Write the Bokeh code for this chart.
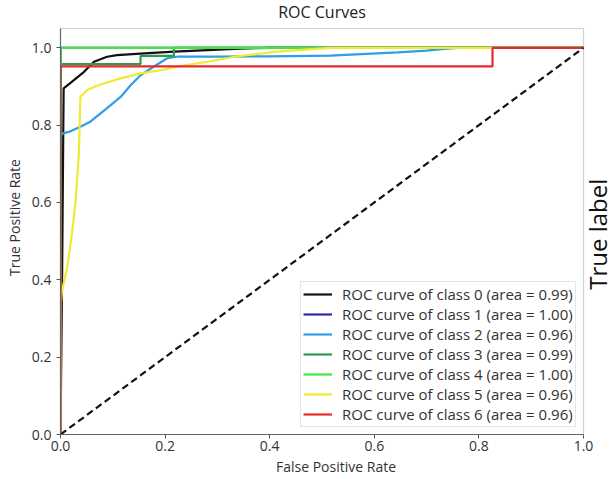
import math
from bokeh.plotting import figure
from bokeh.models import Range1d, Legend, LegendItem, FixedTicker, BoxAnnotation
from bokeh.core.properties import value
from bokeh.embed import file_html
from bokeh.resources import INLINE

# ---- data ----
fpr0 = [0, 0.003, 0.005, 0.006, 0.015, 0.025, 0.045, 0.064, 0.089, 0.108, 0.153, 0.217, 0.281, 0.344, 0.40, 1.0]
tpr0 = [0, 0.40, 0.735, 0.895, 0.905, 0.916, 0.938, 0.964, 0.977, 0.981, 0.985, 0.990, 0.994, 0.998, 1.0, 1.0]

fpr1 = [0, 0, 1.0]
tpr1 = [0, 1.0, 1.0]

fpr2 = [0, 0, 0.003, 0.019, 0.038, 0.057, 0.076, 0.096, 0.115, 0.134, 0.153, 0.178, 0.204, 0.223,
        0.30, 0.40, 0.516, 0.644, 0.70, 0.739, 0.76, 1.0]
tpr2 = [0, 0.770, 0.778, 0.784, 0.796, 0.809, 0.830, 0.852, 0.873, 0.903, 0.929, 0.951, 0.973, 0.977,
        0.977, 0.978, 0.980, 0.988, 0.993, 0.998, 1.0, 1.0]

fpr3 = [0, 0, 0.153, 0.153, 0.217, 0.217, 1.0]
tpr3 = [0, 0.958, 0.958, 0.979, 0.979, 1.0, 1.0]

fpr4 = [0, 0, 1.0]
tpr4 = [0, 1.0, 1.0]

fpr5 = [0, 0, 0.003, 0.013, 0.022, 0.029, 0.033, 0.035, 0.038, 0.051, 0.076, 0.115, 0.153, 0.191,
        0.229, 0.281, 0.325, 0.344, 0.40, 0.453, 0.516, 1.0]
tpr5 = [0, 0.33, 0.373, 0.433, 0.520, 0.606, 0.684, 0.722, 0.873, 0.891, 0.905, 0.921, 0.934, 0.942,
        0.953, 0.964, 0.975, 0.979, 0.988, 0.994, 1.0, 1.0]

fpr6 = [0, 0, 0.826, 0.826, 1.0]
tpr6 = [0, 0.952, 0.952, 1.0, 1.0]

classes = [0, 1, 2, 3, 4, 5, 6]
areas = [0.99, 1.00, 0.96, 0.99, 1.00, 0.96, 0.96]
colors = ["#111111", "#2a2aa8", "#2e9ee6", "#2e9a4f", "#3ee63e", "#f0ea30", "#e52b2b"]

chance_x = [0, 1]
chance_y = [0, 1]

tick_values = [0.0, 0.2, 0.4, 0.6, 0.8, 1.0]
tick_labels = ["0.0", "0.2", "0.4", "0.6", "0.8", "1.0"]

title_text = "ROC Curves"
side_label = "True label"

FONT = "Open Sans"
X_MAX = 1.0535    # room right of the axes box for the side label
Y_BOX = 1.05      # top of the axes box (matplotlib ylim)
Y_MAX = 1.1224    # room above the axes box for the title

p = figure(width=611, height=479, x_range=Range1d(0, X_MAX), y_range=Range1d(0, Y_MAX),
           output_backend="svg", toolbar_location=None,
           min_border_left=60, min_border_right=0, min_border_top=0, min_border_bottom=45)

p.xgrid.visible = False
p.ygrid.visible = False
p.outline_line_color = None

for ax in (p.xaxis, p.yaxis):
    ax.ticker = FixedTicker(ticks=tick_values)
    ax.major_label_overrides = {v: s for v, s in zip(tick_values, tick_labels)}
    ax.minor_tick_line_color = None
    ax.major_tick_in = 0
    ax.major_tick_out = 4
    ax.major_tick_line_color = "#555555"
    ax.axis_line_color = "#666666"
    ax.axis_line_width = 1.2
    ax.major_label_text_font = FONT
    ax.major_label_text_font_size = "14px"
    ax.major_label_text_color = "#333333"
    ax.axis_label_text_font = FONT
    ax.axis_label_text_font_size = "14px"
    ax.axis_label_text_font_style = "normal"
    ax.axis_label_text_color = "#333333"

p.xaxis.bounds = (0, 1)
p.yaxis.bounds = (0, Y_BOX)
p.xaxis.axis_label = "False Positive Rate"
p.yaxis.axis_label = "True Positive Rate"
p.xaxis.major_label_standoff = 2
p.xaxis.axis_label_standoff = 3
p.yaxis.major_label_standoff = 5
p.yaxis.axis_label_standoff = 5

# axes box (matplotlib spines)
p.add_layout(BoxAnnotation(left=0, right=1, bottom=0, top=Y_BOX, fill_alpha=0,
                           line_color="#666666", line_width=1.2))

fprs = [fpr0, fpr1, fpr2, fpr3, fpr4, fpr5, fpr6]
tprs = [tpr0, tpr1, tpr2, tpr3, tpr4, tpr5, tpr6]

items = []
for c, f, t, a, col in zip(classes, fprs, tprs, areas, colors):
    r = p.line(f, t, line_color=col, line_width=2.2)
    items.append(LegendItem(label=f"ROC curve of class {c} (area = {a:.2f})", renderers=[r]))

p.line(chance_x, chance_y, line_color="#111111", line_width=2.2, line_dash="7 4")

legend = Legend(items=items, location=(240, 7))
legend.label_text_font = FONT
legend.label_text_font_size = "15px"
legend.label_text_color = "#333333"
legend.glyph_width = 29
legend.glyph_height = 20
legend.label_height = 20
legend.spacing = 0
legend.padding = 2
legend.margin = 0
legend.label_standoff = 10
legend.border_line_color = "#cccccc"
legend.border_line_width = 1
legend.background_fill_alpha = 0.9
p.add_layout(legend)

# title, centred over the axes box
p.text(x=[0.5], y=[1.0914], text=[title_text],
       text_font=value(FONT), text_font_size="16px", text_color="#222222",
       text_align="center", text_baseline="middle")

# side label, reading bottom to top
p.text(x=[1.027], y=[0.518], text=[side_label], angle=math.pi / 2,
       text_font=value(FONT), text_font_size="24px", text_color="#111111",
       text_align="center", text_baseline="middle")

open("out.html", "w").write(file_html(p, INLINE))
